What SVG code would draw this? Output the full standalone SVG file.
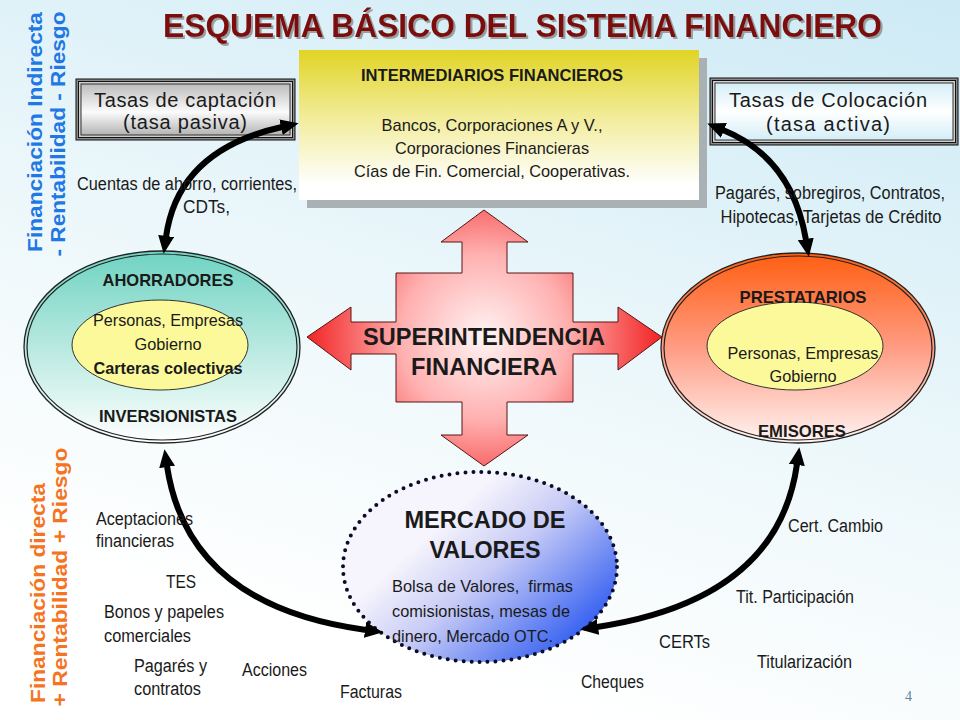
<svg xmlns="http://www.w3.org/2000/svg" width="960" height="720" viewBox="0 0 960 720">
<defs>
<linearGradient id="bg" x1="1" y1="0" x2="0.6" y2="1">
<stop offset="0" stop-color="#cdeaf5"/><stop offset="0.6" stop-color="#eef8fb"/><stop offset="1" stop-color="#ffffff"/>
</linearGradient>
<linearGradient id="gYel" x1="0" y1="0" x2="0" y2="1">
<stop offset="0" stop-color="#e0d424"/><stop offset="0.45" stop-color="#f2ec9a"/><stop offset="0.9" stop-color="#ffffff"/>
</linearGradient>
<linearGradient id="gGrey" x1="0" y1="0" x2="0" y2="1">
<stop offset="0" stop-color="#bcbcbc"/><stop offset="0.55" stop-color="#fbfbfb"/><stop offset="1" stop-color="#b4b4b4"/>
</linearGradient>
<linearGradient id="gBlueBox" x1="0" y1="0" x2="0" y2="1">
<stop offset="0" stop-color="#d4eef7"/><stop offset="0.5" stop-color="#ffffff"/><stop offset="1" stop-color="#d4eef7"/>
</linearGradient>
<linearGradient id="gTeal" x1="0" y1="0" x2="0" y2="1">
<stop offset="0" stop-color="#6fd3c2"/><stop offset="0.5" stop-color="#b8e9e0"/><stop offset="1" stop-color="#ffffff"/>
</linearGradient>
<linearGradient id="gOrange" x1="0" y1="0" x2="0" y2="1">
<stop offset="0" stop-color="#ff5e10"/><stop offset="0.5" stop-color="#ff9c84"/><stop offset="1" stop-color="#fff4f2"/>
</linearGradient>
<linearGradient id="gMercado" x1="0.3" y1="0.35" x2="0.95" y2="0.85">
<stop offset="0" stop-color="#f6f4fc"/><stop offset="0.35" stop-color="#c8ccf6"/><stop offset="1" stop-color="#2453f0"/>
</linearGradient>
<radialGradient id="gCross" cx="484" cy="337" r="185" gradientUnits="userSpaceOnUse">
<stop offset="0" stop-color="#fff4f4"/><stop offset="0.45" stop-color="#ffb0b0"/><stop offset="1" stop-color="#f01818"/>
</radialGradient>
<filter id="tsh" x="-5%" y="-20%" width="110%" height="150%">
<feDropShadow dx="2" dy="2" stdDeviation="0.6" flood-color="#8a8a8a" flood-opacity="0.8"/>
</filter>
<marker id="ah" viewBox="0 0 18 16" refX="1" refY="8" markerWidth="18" markerHeight="16" markerUnits="userSpaceOnUse" orient="auto-start-reverse">
<path d="M0,0 L18,8 L0,16 z" fill="#000"/>
</marker>
<style>
.t{font-family:"Liberation Sans",Arial,sans-serif;fill:#1a1a1a}
.lbl{font-size:18px}
.bd{font-size:17px}
.b{font-weight:bold}
.mid{text-anchor:middle}
.inner{fill:#fbf99a;stroke:#333;stroke-width:1}
.ring{fill:none;stroke:#222;stroke-width:1.2}
.con{fill:none;stroke:#000;stroke-width:6;marker-start:url(#ah);marker-end:url(#ah)}
.vblue{font-family:"Liberation Sans",Arial,sans-serif;font-weight:bold;font-size:21px;fill:#1f78e4;text-anchor:middle}
.vorange{font-family:"Liberation Sans",Arial,sans-serif;font-weight:bold;font-size:21px;fill:#f57422;text-anchor:middle}
</style>
</defs>

<rect x="0" y="0" width="960" height="720" fill="url(#bg)"/>

<text id="title" x="163" y="37" textLength="719" lengthAdjust="spacingAndGlyphs" filter="url(#tsh)" style="font-family:'Liberation Sans',Arial,sans-serif;font-weight:bold;font-size:34px;fill:#7c0a0a">ESQUEMA BÁSICO DEL SISTEMA FINANCIERO</text>

<g id="side-labels">
<text class="vblue" transform="translate(42,132) rotate(-90)" textLength="240" lengthAdjust="spacingAndGlyphs">Financiación Indirecta</text>
<text class="vblue" transform="translate(65,134) rotate(-90)" textLength="245" lengthAdjust="spacingAndGlyphs">- Rentabilidad - Riesgo</text>
<text class="vorange" transform="translate(45,593) rotate(-90)" textLength="220" lengthAdjust="spacingAndGlyphs">Financiación directa</text>
<text class="vorange" transform="translate(67,577) rotate(-90)" textLength="259" lengthAdjust="spacingAndGlyphs">+ Rentabilidad + Riesgo</text>
</g>

<g id="intermediarios">
<rect x="307" y="58" width="400" height="150" fill="#a9b1b5"/>
<rect x="299" y="50" width="400" height="150" fill="url(#gYel)"/>
<text class="t b mid" x="492" y="81" style="font-size:17px" textLength="262" lengthAdjust="spacingAndGlyphs">INTERMEDIARIOS FINANCIEROS</text>
<text class="t bd mid" x="492" y="131" textLength="221" lengthAdjust="spacingAndGlyphs">Bancos, Corporaciones A y V.,</text>
<text class="t bd mid" x="492" y="154" textLength="194" lengthAdjust="spacingAndGlyphs">Corporaciones Financieras</text>
<text class="t bd mid" x="492" y="177" textLength="276" lengthAdjust="spacingAndGlyphs">Cías de Fin. Comercial, Cooperativas.</text>
</g>

<g id="tasa-captacion">
<rect x="76" y="79" width="219" height="61" fill="#8a8a8a" stroke="#111" stroke-width="1"/>
<rect x="78.5" y="81.5" width="214" height="56" fill="#cfcfcf" stroke="#111" stroke-width="1"/>
<rect x="81" y="84" width="209" height="51" fill="url(#gGrey)" stroke="#333" stroke-width="1"/>
<text class="t mid" x="185" y="107" style="font-size:20px" textLength="182">Tasas de captación</text>
<text class="t mid" x="185" y="129" style="font-size:20px" textLength="124">(tasa pasiva)</text>
</g>

<g id="tasa-colocacion">
<rect x="710" y="78" width="248" height="67" fill="#8a8a8a" stroke="#111" stroke-width="1"/>
<rect x="712.5" y="80.5" width="243" height="62" fill="#cfcfcf" stroke="#111" stroke-width="1"/>
<rect x="715" y="83" width="238" height="57" fill="url(#gBlueBox)" stroke="#333" stroke-width="1"/>
<text class="t mid" x="828" y="107" style="font-size:20px" textLength="198">Tasas de Colocación</text>
<text class="t mid" x="828" y="131" style="font-size:20px" textLength="124">(tasa activa)</text>
</g>

<g id="ahorradores">
<ellipse cx="162" cy="347" rx="138" ry="96" fill="url(#gTeal)" stroke="#222" stroke-width="1.3"/>
<ellipse class="ring" cx="162" cy="347" rx="135" ry="93"/>
<ellipse class="inner" cx="160" cy="345" rx="88" ry="45"/>
<text class="t b mid" x="168" y="286" style="font-size:17px" textLength="131" lengthAdjust="spacingAndGlyphs">AHORRADORES</text>
<text class="t bd mid" x="168" y="326" textLength="150" lengthAdjust="spacingAndGlyphs">Personas, Empresas</text>
<text class="t bd mid" x="168" y="350" textLength="67" lengthAdjust="spacingAndGlyphs">Gobierno</text>
<text class="t b mid" x="168" y="374" style="font-size:17px" textLength="149" lengthAdjust="spacingAndGlyphs">Carteras colectivas</text>
<text class="t b mid" x="168" y="422" style="font-size:17px" textLength="138" lengthAdjust="spacingAndGlyphs">INVERSIONISTAS</text>
</g>

<g id="prestatarios">
<ellipse cx="798" cy="348" rx="137" ry="95" fill="url(#gOrange)" stroke="#222" stroke-width="1.3"/>
<ellipse class="ring" cx="798" cy="348" rx="134" ry="92"/>
<ellipse class="inner" cx="795" cy="346" rx="88" ry="44"/>
<text class="t b mid" x="803" y="303" style="font-size:17px" textLength="127" lengthAdjust="spacingAndGlyphs">PRESTATARIOS</text>
<text class="t bd mid" x="803" y="359" textLength="151" lengthAdjust="spacingAndGlyphs">Personas, Empresas</text>
<text class="t bd mid" x="803" y="382" textLength="67" lengthAdjust="spacingAndGlyphs">Gobierno</text>
<text class="t b mid" x="802" y="437" style="font-size:17px" textLength="88" lengthAdjust="spacingAndGlyphs">EMISORES</text>
</g>

<g id="superintendencia">
<polygon points="484,210 528,242 507,242 507,273 573,273 573,322 618,322 618,307 662,337 618,370 618,354 573,354 573,402 507,402 507,435 528,435 484,466 441,435 462,435 462,402 396,402 396,354 351,354 351,370 307,337 351,307 351,322 396,322 396,273 462,273 462,242 441,242" fill="url(#gCross)" stroke="#5a1414" stroke-width="1"/>
<text class="t b mid" x="484" y="345" style="font-size:23px" textLength="242" lengthAdjust="spacingAndGlyphs">SUPERINTENDENCIA</text>
<text class="t b mid" x="484" y="375" style="font-size:23px" textLength="146" lengthAdjust="spacingAndGlyphs">FINANCIERA</text>
</g>

<g id="mercado">
<ellipse cx="480" cy="567" rx="137" ry="95" fill="url(#gMercado)"/>
<ellipse cx="480" cy="567" rx="137" ry="95" fill="none" stroke="#0c0c28" stroke-width="4" stroke-dasharray="0 8" stroke-linecap="round"/>
<text class="t b mid" x="485" y="528" style="font-size:24px" textLength="161" lengthAdjust="spacingAndGlyphs">MERCADO DE</text>
<text class="t b mid" x="485" y="558" style="font-size:24px" textLength="111" lengthAdjust="spacingAndGlyphs">VALORES</text>
<text class="t bd" x="392" y="592" textLength="181" lengthAdjust="spacingAndGlyphs" xml:space="preserve">Bolsa de Valores,  firmas</text>
<text class="t bd" x="392" y="617" textLength="178" lengthAdjust="spacingAndGlyphs">comisionistas, mesas de</text>
<text class="t bd" x="392" y="642" textLength="161" lengthAdjust="spacingAndGlyphs">dinero, Mercado OTC.</text>
</g>

<g id="connectors">
<path class="con" d="M282,127 Q178,150 166,237"/>
<path class="con" d="M723,130 Q792,158 806,240"/>
<path class="con" d="M167,466 Q188,606 366,630"/>
<path class="con" d="M797,464 Q778,600 597,627"/>
</g>

<g id="labels">
<text class="t lbl mid" x="187" y="190" textLength="220" lengthAdjust="spacingAndGlyphs">Cuentas de ahorro, corrientes,</text>
<text class="t lbl" x="183" y="213" textLength="47" lengthAdjust="spacingAndGlyphs">CDTs,</text>
<text class="t lbl mid" x="830" y="199" textLength="230" lengthAdjust="spacingAndGlyphs">Pagarés, sobregiros, Contratos,</text>
<text class="t lbl mid" x="831" y="223" textLength="221" lengthAdjust="spacingAndGlyphs">Hipotecas, Tarjetas de Crédito</text>
<text class="t lbl" x="96" y="525" textLength="97" lengthAdjust="spacingAndGlyphs">Aceptaciones</text>
<text class="t lbl" x="96" y="547" textLength="78" lengthAdjust="spacingAndGlyphs">financieras</text>
<text class="t lbl" x="166" y="588" textLength="30" lengthAdjust="spacingAndGlyphs">TES</text>
<text class="t lbl" x="104" y="618" textLength="120" lengthAdjust="spacingAndGlyphs">Bonos y papeles</text>
<text class="t lbl" x="104" y="642" textLength="87" lengthAdjust="spacingAndGlyphs">comerciales</text>
<text class="t lbl" x="134" y="672" textLength="73" lengthAdjust="spacingAndGlyphs">Pagarés y</text>
<text class="t lbl" x="134" y="695" textLength="67" lengthAdjust="spacingAndGlyphs">contratos</text>
<text class="t lbl" x="242" y="676" textLength="65" lengthAdjust="spacingAndGlyphs">Acciones</text>
<text class="t lbl" x="340" y="698" textLength="62" lengthAdjust="spacingAndGlyphs">Facturas</text>
<text class="t lbl" x="581" y="688" textLength="63" lengthAdjust="spacingAndGlyphs">Cheques</text>
<text class="t lbl" x="659" y="648" textLength="51" lengthAdjust="spacingAndGlyphs">CERTs</text>
<text class="t lbl" x="757" y="668" textLength="95" lengthAdjust="spacingAndGlyphs">Titularización</text>
<text class="t lbl" x="736" y="603" textLength="118" lengthAdjust="spacingAndGlyphs">Tit. Participación</text>
<text class="t lbl" x="788" y="532" textLength="95" lengthAdjust="spacingAndGlyphs">Cert. Cambio</text>
<text x="905" y="701" style="font-family:'Liberation Serif',serif;font-size:14px;fill:#5a8796">4</text>
</g>
</svg>
